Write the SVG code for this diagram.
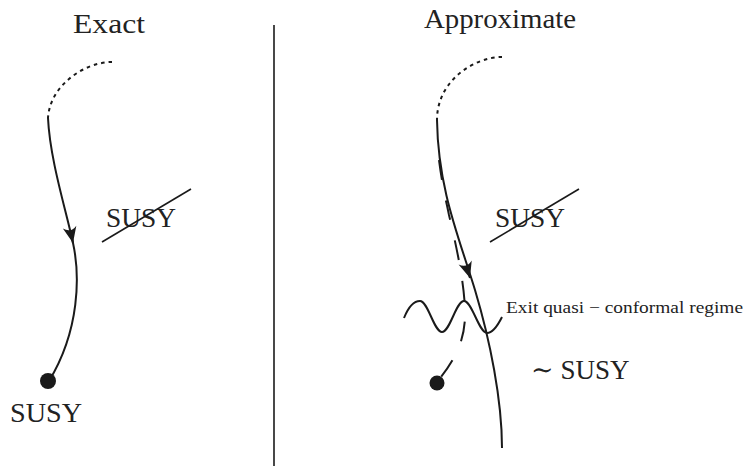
<svg xmlns="http://www.w3.org/2000/svg" width="755" height="473" viewBox="0 0 755 473">
<style>
text{font-family:"Liberation Serif","DejaVu Serif",serif;fill:#222}
.big{font-size:27px}
.small{font-size:17px}
.ln{fill:none;stroke:#1a1a1a;stroke-width:2;stroke-linecap:butt}
.dot{fill:none;stroke:#1a1a1a;stroke-width:2;stroke-dasharray:3.5 4}
.dash{fill:none;stroke:#1a1a1a;stroke-width:2;stroke-dasharray:20 21}
.thin{fill:none;stroke:#1a1a1a;stroke-width:1.6}
</style>
<defs>
<marker id="arr" markerUnits="userSpaceOnUse" markerWidth="20" markerHeight="20" viewBox="-14 -8 16 16" refX="0" refY="0" orient="auto">
<path d="M0,0 L-13,-5.5 Q-8,0 -13,5.5 Z" fill="#1a1a1a"/>
</marker>
</defs>
<rect width="755" height="473" fill="#fff"/>
<g id="titles">
<text class="big" x="73" y="33" textLength="72" lengthAdjust="spacingAndGlyphs">Exact</text>
<text class="big" x="424" y="28" textLength="152" lengthAdjust="spacingAndGlyphs">Approximate</text>
</g>
<g id="divider"><line x1="274" y1="25" x2="274" y2="466" stroke="#1a1a1a" stroke-width="1.6"/></g>
<g id="connectors">
<path class="dot" d="M112,62 C85,62 50,85 48,118"/>
<path class="ln" d="M48,118 C50,160 66,210 73,243 C80,275 80,330 49,381"/>
<path class="ln" d="M71.5,236 L73,243" marker-end="url(#arr)"/>
<path class="dot" d="M502,57 C475,57 437,80 437,120"/>
<path class="ln" d="M437,120 C438,190 460,240 475,290 C490,340 502,400 502,448"/>
<path class="ln" d="M467.5,270 L470,278" marker-end="url(#arr)"/>
<path class="dash" d="M439,160 C443,190 446,200 449,215 C456,245 464,280 465,310 C466,340 455,360 437,382"/>
<path class="ln" d="M404,318 C408,308 413,301 420,301 C428,301 434,332 442,332 C450,332 456,301 464,301 C472,301 479,333 487,333 C493,333 498,325 502,317"/>
</g>
<g id="node-susy-exact">
<circle cx="48" cy="381" r="8" fill="#1a1a1a"/>
<text class="big" x="10" y="422" textLength="72" lengthAdjust="spacingAndGlyphs">SUSY</text>
</g>
<g id="node-susy-broken-left">
<text class="big" x="106" y="227" textLength="70" lengthAdjust="spacingAndGlyphs">SUSY</text>
<line class="thin" x1="102" y1="242" x2="191" y2="189"/>
</g>
<g id="node-susy-broken-right">
<text class="big" x="495" y="227" textLength="70" lengthAdjust="spacingAndGlyphs">SUSY</text>
<line class="thin" x1="490" y1="242" x2="579" y2="189"/>
</g>
<g id="node-exit">
<text class="small" x="506" y="313" textLength="237" lengthAdjust="spacingAndGlyphs">Exit quasi − conformal regime</text>
</g>
<g id="node-approx-susy">
<circle cx="437" cy="383" r="7.5" fill="#1a1a1a"/>
<text class="big" x="531" y="379">∼ <tspan>SUSY</tspan></text>
</g>
</svg>
